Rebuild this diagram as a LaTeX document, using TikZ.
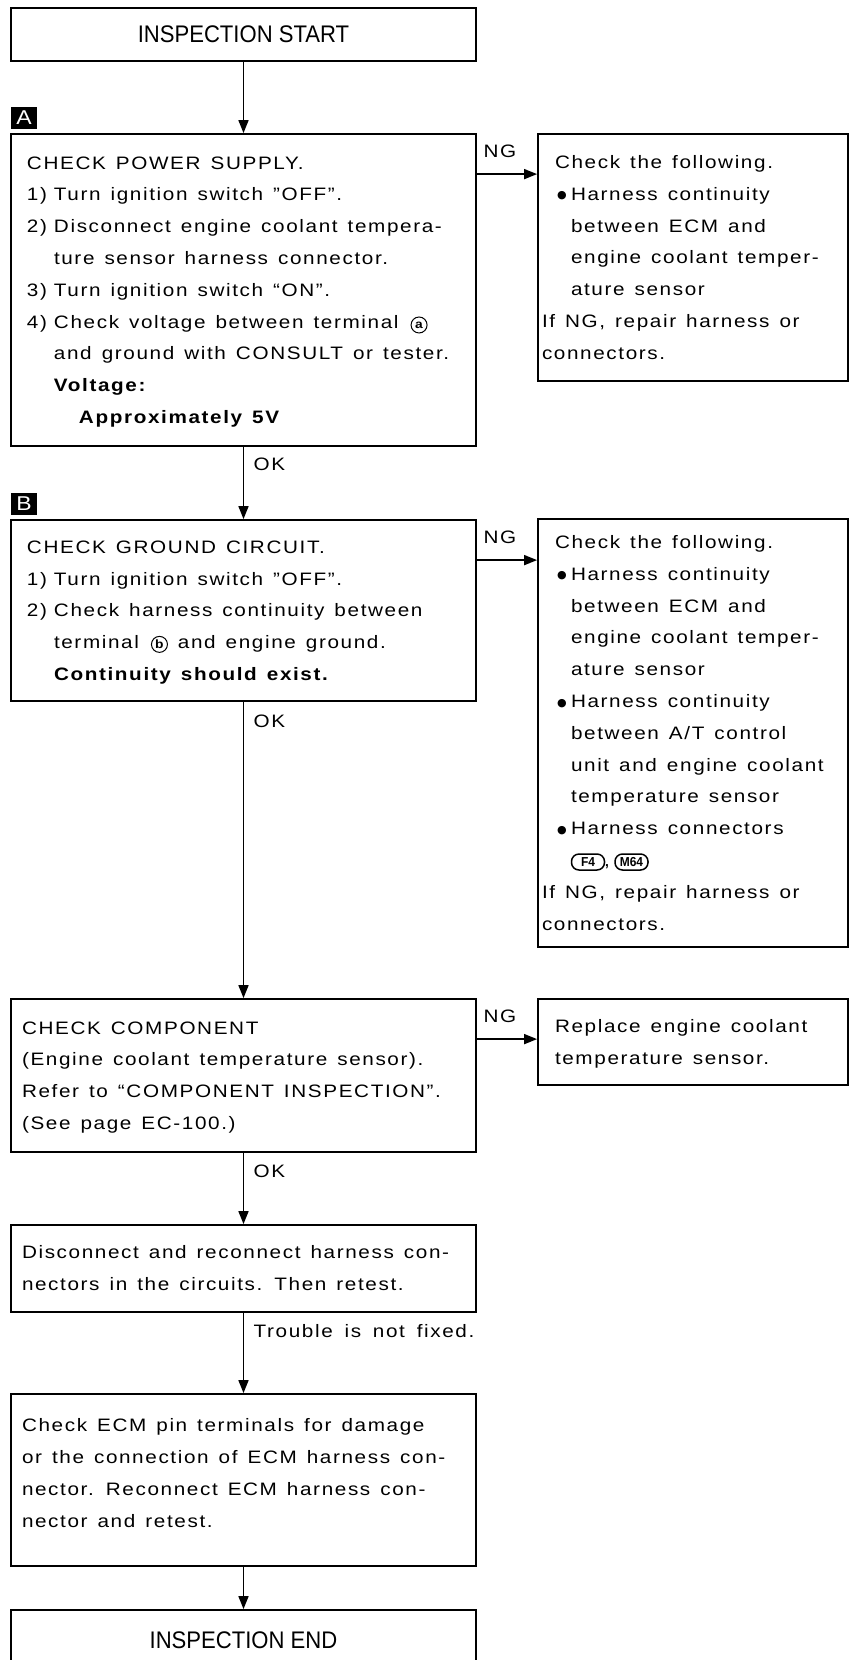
\documentclass[tikz,border=0pt]{standalone}
\usepackage{fontspec}
\setmainfont{Liberation Sans}[FakeStretch=1.15,LetterSpace=9,WordSpace=1.6]
\newfontfamily\headfont{Liberation Sans}[FakeStretch=0.92]
\newfontfamily\symfont{DejaVu Sans}
\usetikzlibrary{arrows.meta}

\newcommand{\boxlines}[1]{\noindent\spaceskip=10pt\xspaceskip=12pt
    \begin{tabular}{@{}l@{}}#1\end{tabular}}
\newcommand{\numlab}[1]{\makebox[27pt][l]{#1}}
\newcommand{\contind}{\hspace*{27pt}}
\newcommand{\blt}{\hspace*{15pt}\makebox[14pt][l]{\raisebox{1.5pt}{\symfont\fontsize{11}{11}\selectfont ●}}}
\newcommand{\bltcont}{\hspace*{29pt}}
\newcommand{\firstind}{\hspace*{13pt}}
\newcommand{\term}[1]{\hspace*{2pt}\tikz[baseline=(t#1.base)]\node[draw,circle,line width=1pt,
    inner sep=0pt,minimum size=16pt,font=\bfseries\fontsize{12}{12}\selectfont] (t#1) {#1};}

\begin{document}
\begin{tikzpicture}[x=1pt,y=-1pt,
    every node/.style={font=\fontsize{18}{31.8}\selectfont},
    mainbox/.style={draw,line width=1.8pt,align=left,inner xsep=11pt,inner ysep=0pt,
        text width=443pt,minimum width=465pt},
    sidebox/.style={draw,line width=1.8pt,align=left,inner xsep=4pt,inner ysep=0pt,
        text width=302pt,minimum width=310pt},
    endbox/.style={draw,line width=1.8pt,minimum width=465pt,
        font=\headfont\fontsize{24}{24}\selectfont},
    tag/.style={fill=black,text=white,inner sep=0pt,minimum width=26pt,
        minimum height=22pt,font=\fontsize{20}{20}\selectfont},
    lbl/.style={inner sep=0pt},
    conn/.style={draw,line width=1.5pt,rounded corners=7.5pt,inner sep=0pt,
        minimum width=33pt,minimum height=16pt,
        font=\headfont\bfseries\fontsize{13}{13}\selectfont},
    arr/.style={line width=1.6pt,-{Triangle[length=13pt,width=10pt]}}]
    \useasboundingbox (0,0) rectangle (853,1660);

    % main column
    \node[endbox,minimum height=53pt] (start) at (243.5,34.5) {INSPECTION START};
    \node[mainbox,inner xsep=16pt,text width=433pt,minimum height=312pt] (A) at (243.5,290) {\boxlines{%
        CHECK POWER SUPPLY.\\
        \numlab{1)}Turn ignition switch ”OFF”.\\
        \numlab{2)}Disconnect engine coolant tempera-\\
        \contind ture sensor harness connector.\\
        \numlab{3)}Turn ignition switch “ON”.\\
        \numlab{4)}Check voltage between terminal \term{a}\\
        \contind and ground with CONSULT or tester.\\
        \contind\textbf{Voltage:}\\
        \contind\hspace*{25pt}\textbf{Approximately 5V}}};
    \node[mainbox,inner xsep=16pt,text width=433pt,minimum height=181pt] (B) at (243.5,610.5) {\boxlines{%
        CHECK GROUND CIRCUIT.\\
        \numlab{1)}Turn ignition switch ”OFF”.\\
        \numlab{2)}Check harness continuity between\\
        \contind terminal \term{b} and engine ground.\\
        \contind\textbf{Continuity should exist.}}};
    \node[mainbox,minimum height=153pt] (C) at (243.5,1075.5) {\boxlines{%
        CHECK COMPONENT\\
        (Engine coolant temperature sensor).\\
        Refer to “COMPONENT INSPECTION”.\\
        (See page EC-100.)}};
    \node[mainbox,minimum height=87pt] (D) at (243.5,1268.5) {\boxlines{%
        Disconnect and reconnect harness con-\\
        nectors in the circuits. Then retest.}};
    \node[mainbox,minimum height=172pt] (E) at (243.5,1480) {\boxlines{%
        Check ECM pin terminals for damage\\
        or the connection of ECM harness con-\\
        nector. Reconnect ECM harness con-\\
        nector and retest.\\[14pt]}};
    \node[endbox,minimum height=60pt] (stop) at (243.5,1640) {INSPECTION END};

    % step tags
    \node[tag] (tagA) at ([xshift=14pt,yshift=15pt]A.north west) {A};
    \node[tag] (tagB) at ([xshift=14pt,yshift=15pt]B.north west) {B};

    % NG column
    \node[sidebox,minimum height=247pt] (R1) at (693,257.5) {\boxlines{%
        \firstind Check the following.\\
        \blt Harness continuity\\
        \bltcont between ECM and\\
        \bltcont engine coolant temper-\\
        \bltcont ature sensor\\
        If NG, repair harness or\\
        connectors.}};
    \node[sidebox,minimum height=428pt] (R2) at (693,733) {\boxlines{%
        \firstind Check the following.\\
        \blt Harness continuity\\
        \bltcont between ECM and\\
        \bltcont engine coolant temper-\\
        \bltcont ature sensor\\
        \blt Harness continuity\\
        \bltcont between A/T control\\
        \bltcont unit and engine coolant\\
        \bltcont temperature sensor\\
        \blt Harness connectors\\
        \bltcont\hspace*{33pt},\\
        If NG, repair harness or\\
        connectors.}};
    \node[conn] (F4) at (588,862) {F4};
    \node[conn] (M64) at (631.5,862) {M64};
    \node[sidebox,minimum height=86pt] (R3) at (693,1042) {\boxlines{%
        \firstind Replace engine coolant\\
        \firstind temperature sensor.}};

    % connectors
    \draw[arr] (start) -- (A);
    \draw[arr] (A) -- (B);
    \draw[arr] (B) -- (C);
    \draw[arr] (C) -- (D);
    \draw[arr] (D) -- (E);
    \draw[arr] (E) -- (stop);
    \foreach \src/\dst in {A/R1,B/R2,C/R3} {
        \coordinate (ng\src) at ([yshift=-41pt]\src.north east);
        \draw[arr] (ng\src) -- (ng\src -| \dst.west);
        \node[lbl] (ngl\src) at ([xshift=23pt,yshift=23pt]ng\src) {NG};
    }
    \node[lbl,anchor=west] (okA) at ([xshift=10pt,yshift=-17pt]A.south) {OK};
    \node[lbl,anchor=west] (okB) at ([xshift=10pt,yshift=-19pt]B.south) {OK};
    \node[lbl,anchor=west] (okC) at ([xshift=10pt,yshift=-18pt]C.south) {OK};
    \node[lbl,anchor=west] (notfixed) at ([xshift=10pt,yshift=-18pt]D.south) {Trouble is not fixed.};
\end{tikzpicture}
\end{document}
